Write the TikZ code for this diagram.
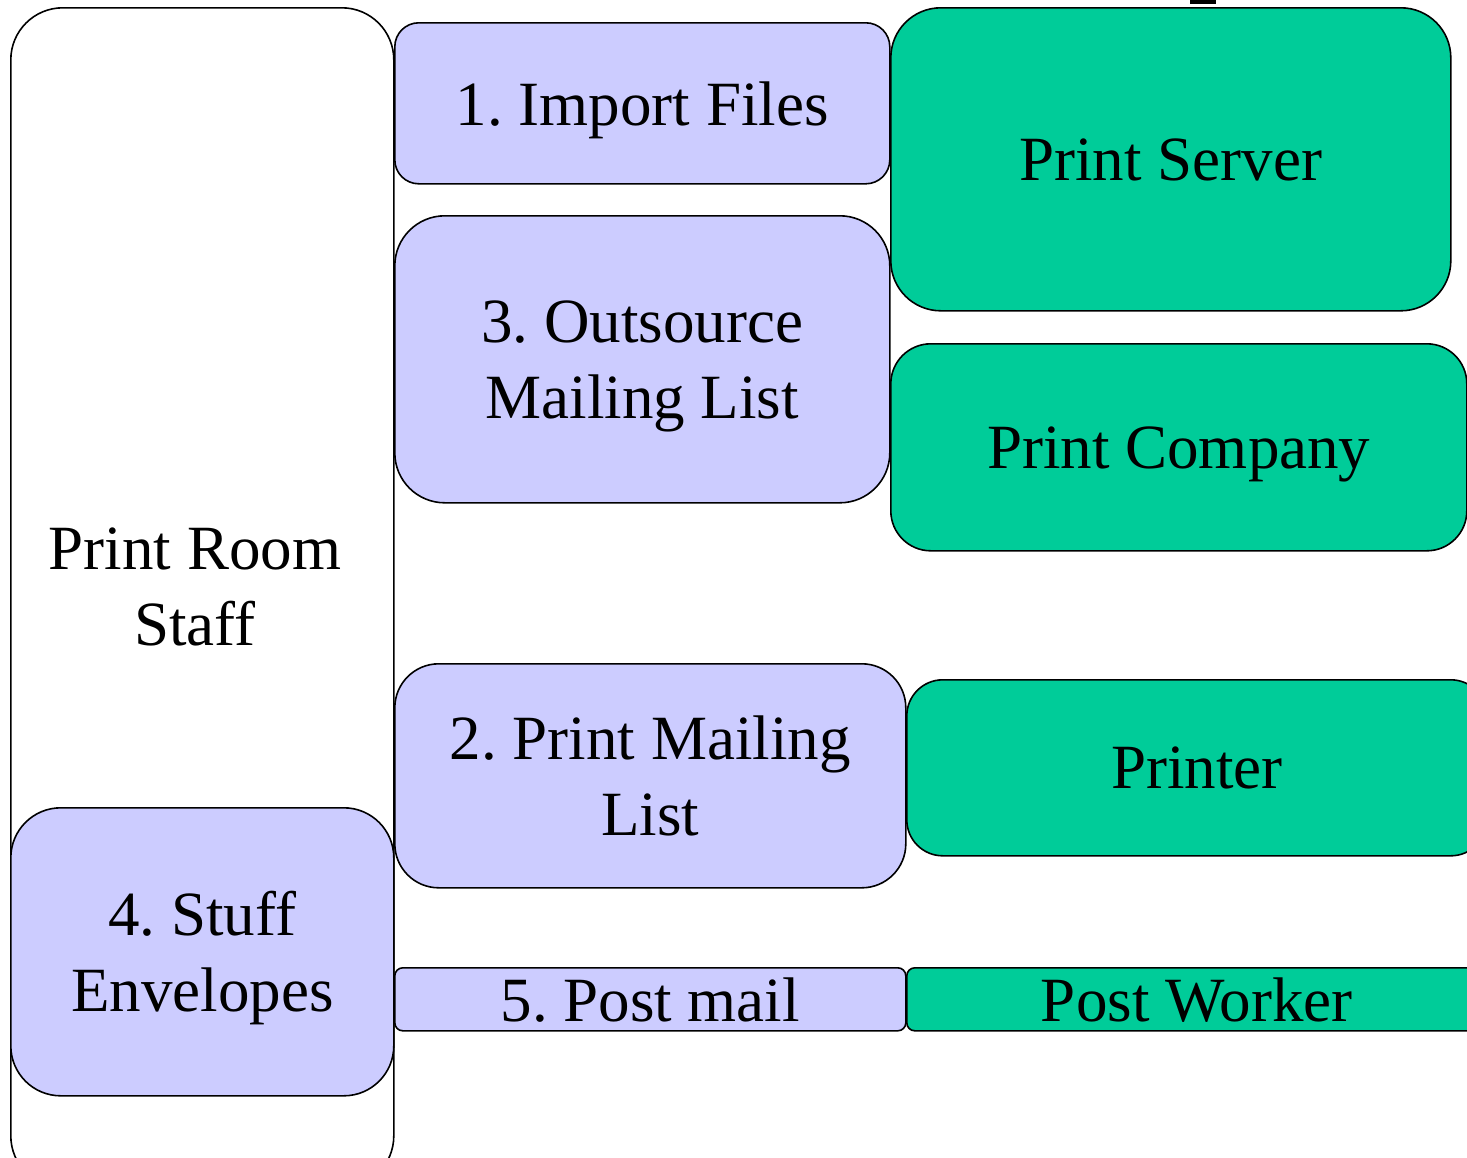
\documentclass[tikz,border=0pt]{standalone}
\usepackage{fontspec}
\setmainfont{Liberation Serif}
\frenchspacing
\begin{document}
\begin{tikzpicture}[x=1pt,y=-1pt,
  box/.style={draw=black, line width=1.6pt, rectangle, inner sep=0pt, anchor=north west,
    align=center, text depth=0pt, font=\fontsize{63}{76}\selectfont},
  task/.style={box, fill=lav},
  actor/.style={box, fill=grn},
  lane/.style={box, fill=white}]
\definecolor{lav}{HTML}{CCCCFF}
\definecolor{grn}{HTML}{00CC99}
\useasboundingbox (0,0) rectangle (1467,1157);
\fill[white] (0,0) rectangle (1467,1157);

% swimlane for the print room staff
\node[lane, rounded corners=52pt, minimum width=383pt, minimum height=1180pt] (staff) at (10,7) {};
\node[font=\fontsize{63}{76}\selectfont, align=center] (stafflbl) at (195,587) {Print Room\\Staff};

% tasks
\node[task, rounded corners=24pt, minimum width=495pt, minimum height=161pt] (imp) at (394,22) {1. Import Files};
\node[task, rounded corners=50pt, minimum width=495pt, minimum height=287pt] (out) at (394,215) {3. Outsource\\Mailing List};
\node[task, rounded corners=44pt, minimum width=511pt, minimum height=224pt] (prt) at (394,663) {2. Print Mailing\\List};
\node[task, rounded corners=50pt, minimum width=383pt, minimum height=288pt] (env) at (10,807) {4. Stuff\\Envelopes};
\node[task, rounded corners=8pt, minimum width=511pt, minimum height=63pt] (post) at (394,967) {5. Post mail};

% actors
\node[actor, rounded corners=50pt, minimum width=560pt, minimum height=303pt] (srv) at (890,7) {Print Server};
\node[actor, rounded corners=40pt, minimum width=576pt, minimum height=207pt] (comp) at (890,343) {Print Company};
\node[actor, rounded corners=36pt, minimum width=580pt, minimum height=176pt] (printer) at (906,679) {Printer};
\node[actor, rounded corners=8pt, minimum width=580pt, minimum height=63pt] (worker) at (906,967) {Post Worker};

% glyph fragment at the upper edge
\fill[black] (1190,0) rectangle (1216,4);
\end{tikzpicture}
\end{document}
